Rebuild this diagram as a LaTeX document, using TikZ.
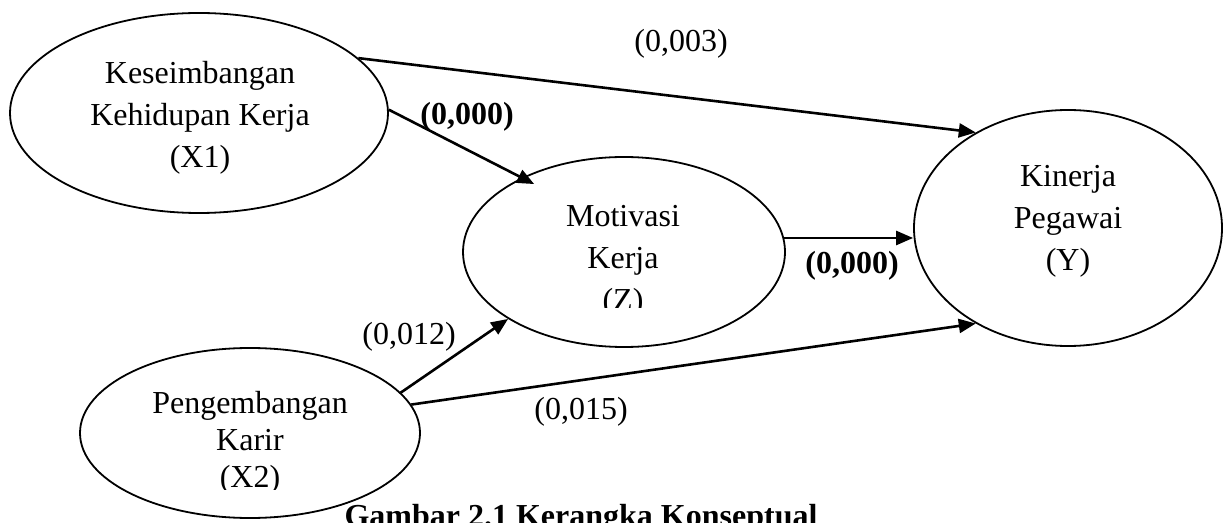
\documentclass[tikz,border=0pt]{standalone}
\usepackage{fontspec}
\setmainfont{Liberation Serif}
\usetikzlibrary{arrows.meta,shapes.geometric}
\tikzset{
  ellnode/.style={draw=black, line width=0.9pt, ellipse, inner sep=0pt},
  txtnode/.style={inner sep=0pt, align=center, font=\fontsize{16}{21}\selectfont},
  lblnode/.style={inner sep=0pt, font=\fontsize{16}{21}\selectfont},
  boldlbl/.style={inner sep=0pt, font=\fontsize{16}{21}\selectfont\bfseries},
  conn/.style={line width=1.3pt, -{Triangle[length=8.5pt,width=7pt]}}
}
\begin{document}
\begin{tikzpicture}[x=0.5pt,y=-0.5pt]
\useasboundingbox (0,0) rectangle (1230,523);
\clip (0,0) rectangle (1230,523);
\fill[white] (0,0) rectangle (1230,523);

% ellipses
\node[ellnode, minimum width=189pt, minimum height=100pt] (X1) at (199,113) {};
\node[ellnode, minimum width=161pt, minimum height=95pt] (Z) at (624,252) {};
\node[ellnode, minimum width=154pt, minimum height=118pt] (Y) at (1068,228) {};
\node[ellnode, minimum width=170pt, minimum height=85pt] (X2) at (250,433) {};

% texts
\node[txtnode] (tX1) at (200,118) {Keseimbangan\\Kehidupan Kerja\\(X1)};
\begin{scope}
  \clip (450,150) rectangle (800,308);
  \node[txtnode] (tZ) at (623,261) {Motivasi\\Kerja\\(Z)};
\end{scope}
\node[txtnode] (tY) at (1068,221) {Kinerja\\Pegawai\\(Y)};
\begin{scope}
  \clip (60,340) rectangle (440,489);
  \node[txtnode, font=\fontsize{16}{18.5}\selectfont] (tX2) at (250,443) {Pengembangan\\Karir\\(X2)};
\end{scope}

% connectors
\draw[conn] (X1.19) -- (Y.134);
\draw[conn, shorten >=-7pt] (X1.1) -- (Z.144);
\draw[conn] (Z.5) -- (Z.5 -| Y.west);
\draw[conn] (X2.15) -- (Z.210);
\draw[conn] (X2.10) -- (Y.226);

% labels
\node[lblnode] (l1) at (681,44) {(0,003)};
\node[boldlbl] (l2) at (467,117) {(0,000)};
\node[boldlbl] (l3) at (852,266) {(0,000)};
\node[lblnode] (l4) at (409,337) {(0,012)};
\node[lblnode] (l5) at (581,412) {(0,015)};

% caption
\node[boldlbl, anchor=base] (cap) at (581,526) {Gambar 2.1 Kerangka Konseptual};
\end{tikzpicture}
\end{document}
